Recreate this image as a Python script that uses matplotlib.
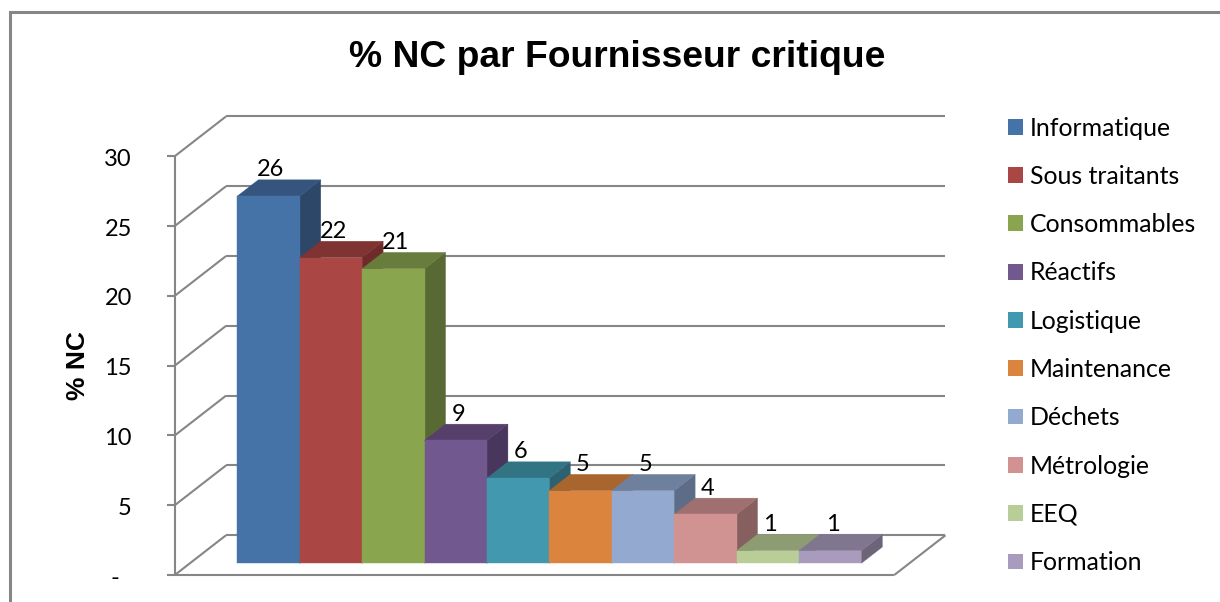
import matplotlib
matplotlib.use('Agg')
from matplotlib import pyplot as plt
from matplotlib.patches import Polygon, Patch
from matplotlib.lines import Line2D

categories = ['Informatique', 'Sous traitants', 'Consommables', 'Réactifs', 'Logistique',
              'Maintenance', 'Déchets', 'Métrologie', 'EEQ', 'Formation']
values = [26.3, 21.9, 21.1, 8.8, 6.1, 5.2, 5.2, 3.5, 0.9, 0.9]
front_colors = ['#4572A7', '#AA4643', '#89A54E', '#71588F', '#4198AF',
                '#DB843D', '#93A9CF', '#D19392', '#B9CD96', '#A99BBD']
top_colors = ['#35557F', '#803333', '#687C3B', '#573F6C', '#327384',
              '#A8652E', '#6F809E', '#9F706F', '#8D9C72', '#817690']
side_colors = ['#2C4768', '#6E2B2A', '#596934', '#49365C', '#2B6171',
               '#8F5527', '#5E6D87', '#86605F', '#788461', '#6D647A']
y_ticks = [0, 5, 10, 15, 20, 25, 30]
# the dash for zero sits further left in the original, hence the spaces
y_tick_labels = ['-  ', '5', '10', '15', '20', '25', '30']

# one bar is 62.4 px wide, one % is 13.96 px high, base of bars at pixel row 563
PX_X = 62.4
PX_Y = 13.96
W, H = 1220, 602
DEPTH_X = 21 / PX_X
DEPTH_Y = 16.3 / PX_Y
FLOOR_FRONT = -0.72
FLOOR_BACK = 1.72
X_LEFT = -1.26
X_RIGHT = 10.27
GRID = '#868686'

plt.rcParams['font.family'] = ['Lato', 'DejaVu Sans']

fig = plt.figure(figsize=(W / 100, H / 100), dpi=100)
ax = fig.add_axes([0, 0, 1, 1])
ax.set_xlim(-0.5 - 237.3 / PX_X, -0.5 + (W - 237.3) / PX_X)
ax.set_ylim((563.3 - H) / PX_Y, 563.3 / PX_Y)
ax.axis('off')


def project(x, y, d):
    # oblique view: d=0 is the front of the bars, d=1 their back
    return x + d * DEPTH_X, y + d * DEPTH_Y


def line(p0, p1, **kw):
    ax.add_line(Line2D([p0[0], p1[0]], [p0[1], p1[1]], color=GRID, lw=1.5,
                       solid_capstyle='butt', **kw))


# chart border, only top and left are visible in the crop
ax.add_line(Line2D([0.0083, 0.0083, 1], [0, 0.98, 0.98], transform=ax.transAxes,
                   color='#868686', lw=2.2, solid_joinstyle='miter'))

# walls and floor
for t, lab in zip(y_ticks, y_tick_labels):
    front = project(X_LEFT, t, FLOOR_FRONT)
    back = project(X_LEFT, t, FLOOR_BACK)
    line(front, back, zorder=1)
    line(back, project(X_RIGHT, t, FLOOR_BACK), zorder=1)
    ax.plot([front[0] - 8 / PX_X, front[0]], [front[1], front[1]], color=GRID, lw=1.5,
            solid_capstyle='butt', zorder=1)
    ax.text(front[0] - 43 / PX_X, front[1] - 3 / PX_Y, lab, ha='right', va='center',
            fontsize=17, color='black')

line(project(X_LEFT, 0, FLOOR_FRONT), project(X_LEFT, 30, FLOOR_FRONT), zorder=1)
line(project(X_LEFT, 0, FLOOR_FRONT), project(X_RIGHT, 0, FLOOR_FRONT), zorder=1)
line(project(X_RIGHT, 0, FLOOR_FRONT), project(X_RIGHT, 0, FLOOR_BACK), zorder=1)

# bars, left to right so the next front hides the side of the previous one
for i, v in enumerate(values):
    l, r = i - 0.5, i + 0.5
    z = 2 + i * 0.01
    ax.add_patch(Polygon([project(r, 0, 0), project(r, 0, 1), project(r, v, 1), project(r, v, 0)],
                         fc=side_colors[i], ec=side_colors[i], lw=0.3, zorder=z))
    ax.add_patch(Polygon([project(l, v, 0), project(r, v, 0), project(r, v, 1), project(l, v, 1)],
                         fc=top_colors[i], ec=top_colors[i], lw=0.3, zorder=z))
    ax.add_patch(Polygon([(l, 0), (r, 0), (r, v), (l, v)],
                         fc=front_colors[i], ec=front_colors[i], lw=0.3, zorder=z))

for i, v in enumerate(values):
    ax.text(i + 0.04, v + DEPTH_Y + 10 / PX_Y, '%.0f' % v, ha='center', va='center',
            fontsize=17, color='black', zorder=5)

ax.text(0.5055, 0.904, '% NC par Fournisseur critique', transform=ax.transAxes, ha='center',
        va='center', fontsize=26.85, fontweight='bold', family='Liberation Sans')
ax.text(0.064, 0.393, '% NC', transform=ax.transAxes, rotation=90, ha='center', va='center',
        fontsize=19, fontweight='bold', family='Liberation Sans')

handles = [Patch(fc=c, ec='none') for c in front_colors]
ax.legend(handles, categories, loc='upper left', bbox_to_anchor=(1008 / W, 1 - 116.5 / H),
          borderaxespad=0, borderpad=0, frameon=False, fontsize=17.9, handlelength=0.6,
          handleheight=0.6, handletextpad=0.28, labelspacing=1.018)

fig.savefig('out.png', dpi=100)
